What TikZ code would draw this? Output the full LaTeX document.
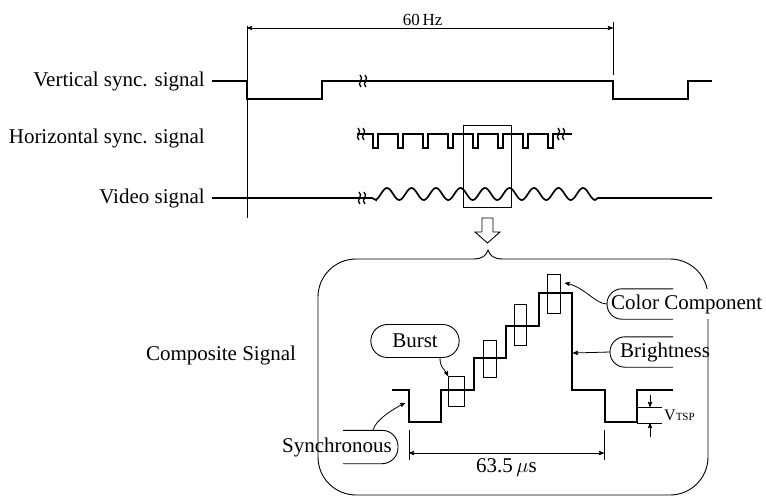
\documentclass[tikz,border=0pt]{standalone}
\usepackage{fontspec}
\setmainfont{Liberation Serif}
\usetikzlibrary{arrows,positioning,shapes.misc}
\newcommand\sigfont{\fontsize{21}{25}\selectfont}

\begin{document}
\begin{tikzpicture}[x=1pt,y=-1pt,>=stealth',
    thin line/.style={line width=0.9pt},
    wave/.style={line width=1.7pt},
    comp wave/.style={line width=2.3pt},
    lead/.style={line width=0.8pt,->},
    sig/.style={font=\sigfont,inner xsep=7pt,inner ysep=0pt,anchor=east},
    callout/.style={font=\sigfont,minimum height=30pt,inner ysep=0pt},
    brk/.pic={\draw[line width=1.3pt] (-2,6) .. controls (-7,2) and (2,-2) .. (-3,-6);
              \draw[line width=1.3pt] (3,6) .. controls (-2,2) and (7,-2) .. (2,-6);}]

    \useasboundingbox (0,0) rectangle (766,496);

    \node[sig] (vs) at (212,81) {Vertical sync. signal};
    \node[sig] (hs) [below=57pt of vs.east,anchor=east] {Horizontal sync. signal};
    \node[sig] (vid) [below=60pt of hs.east,anchor=east] {Video signal};

    \draw[thin line] (247,26) -- (247,218);
    \draw[thin line] (613,22) -- (613,75);
    \draw[thin line,<->] (247,28) -- (613,28)
        node[pos=0.48,above=2pt,inner sep=0pt,font=\fontsize{17}{19}\selectfont] (hz) {60\,Hz};

    \draw[wave] (vs.east) -- (247,81) -- (247,99) -- (322,99) -- (322,81) -- (613,81)
        -- (613,99) -- (688,99) -- (688,81) -- (712,81);
    \pic at (363,81) {brk};

    \draw[wave] (357,134) foreach \p in {0,...,7} { -- ({373+25*\p},134) -- ++(0,14) -- ++(5,0) -- ++(0,-14) }
        -- (572,134);
    \pic at (361,134) {brk};
    \pic at (561,134) {brk};

    \draw[wave] (vid.east) -- (372,198) -- (376,200)
        -- plot[domain=376:595,samples=160] (\x,{194-6*cos((\x-387)/24.5*360)})
        -- (598,198) -- (712,198);
    \pic at (362,198) {brk};

    \draw[thin line] (463,125) rectangle (511,207);
    \draw[thin line] (482,218) -- (493,218) -- (493,232) -- (500,232) -- (487.5,243)
        -- (475,232) -- (482,232) -- cycle;

    \draw[thin line,rounded corners=38] (473,259) -- (318,259) -- (318,495) -- (708,495)
        -- (708,259) -- (503,259);
    \draw[thin line] (473,259) .. controls (482,259) and (486,256) .. (488,250)
        .. controls (490,256) and (494,259) .. (503,259);

    \node[font=\sigfont] (cs) at (221,355) {Composite Signal};

    \draw[comp wave] (392,390) -- (409,390) -- (409,422) -- (441,422) -- (441,390) -- (474,390)
        -- (474,358) -- (506,358) -- (506,326) -- (539,326) -- (539,293) -- (572,293)
        -- (572,390) -- (605,390) -- (605,422) -- (637,422) -- (637,390) -- (673,390);
    \draw[thin line] (448,376) rectangle (464,406);
    \draw[thin line] (483,340) rectangle (496,377);
    \draw[thin line] (514,304) rectangle (526,345);
    \draw[thin line] (547,274) rectangle (560,313);

    \coordinate (burst tip) at (448,376);
    \coordinate (cc tip) at (565,283);
    \coordinate (br tip) at (573,353);
    \coordinate (sy tip) at (405,403);

    \node[draw,thin line,rounded rectangle,font=\sigfont,minimum width=95pt,minimum height=33pt] (burst) at (415,341) {Burst};
    \node[callout,anchor=west,inner xsep=4pt,fill=white] (cc) at (607,304) {Color Component};
    \node[callout,anchor=west,inner xsep=10pt] (br) at (610,352) {Brightness};
    \node[callout,anchor=east,inner xsep=6pt,minimum height=33pt] (sy) at (398,447) {Synchronous};

    \draw[thin line,rounded corners=15] ([xshift=66pt]cc.north west) -- (cc.north west)
        -- (cc.south west) -- ([xshift=66pt]cc.south west);
    \draw[thin line,rounded corners=15] ([xshift=63pt]br.north west) -- (br.north west)
        -- (br.south west) -- ([xshift=63pt]br.south west);
    \draw[thin line,rounded corners=16] ([xshift=-55pt]sy.north east) -- (sy.north east)
        -- (sy.south east) -- ([xshift=-55pt]sy.south east);

    \draw[lead] ([xshift=25pt]burst.south) .. controls +(0,10) and +(-4,-8) .. (burst tip);
    \draw[lead] (cc.west) .. controls +(-12,0) and +(20,4) .. (cc tip);
    \draw[lead] (br.west) -- (br tip);
    \draw[lead] ([xshift=-25pt]sy.north east) .. controls +(2,-10) and +(-12,6) .. (sy tip);

    \draw[thin line] (409,430) -- (409,460);
    \draw[thin line] (604,430) -- (604,460);
    \draw[thin line,<->] (409,453) -- (604,453)
        node[midway,below=5pt,inner sep=0pt,font=\sigfont] (per) {63.5\,$\mu$s};

    \draw[thin line] (637,407) -- (662,407);
    \draw[thin line] (637,423) -- (662,423);
    \draw[thin line,->] (650,395) -- (650,407);
    \draw[thin line,->] (650,437) -- (650,423);
    \node[anchor=west,inner sep=0pt,font=\fontsize{16}{17}\selectfont] (vt) at (664,415)
        {V{\fontsize{11}{12}\selectfont TSP}};

\end{tikzpicture}
\end{document}
